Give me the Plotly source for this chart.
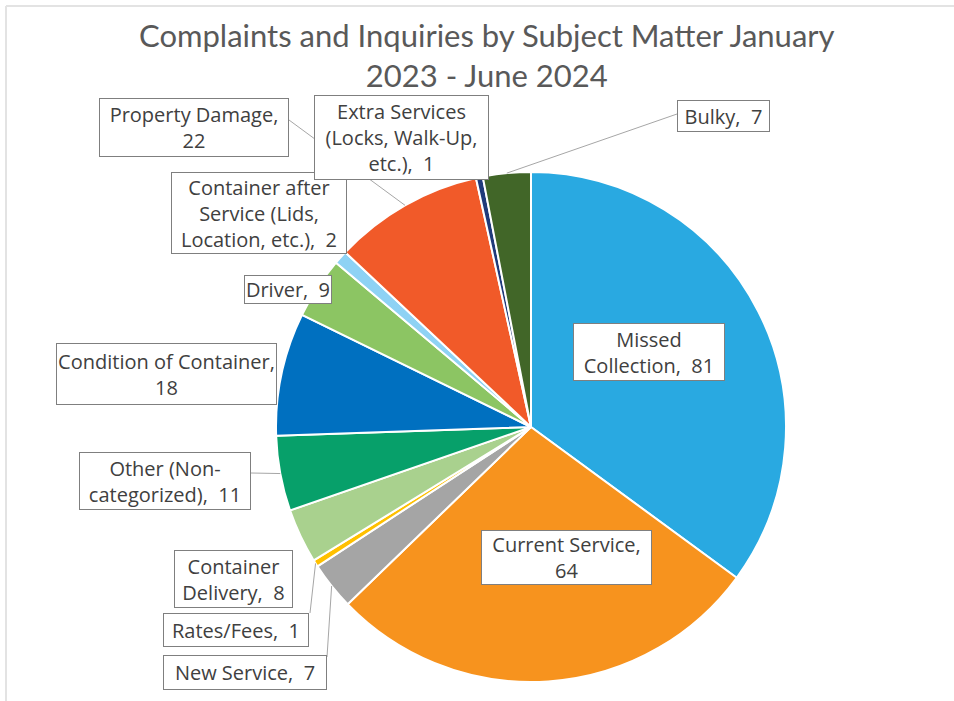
import math
import plotly.graph_objects as go

# ---------------- data ----------------
categories = [
    "Missed Collection",
    "Current Service",
    "New Service",
    "Rates/Fees",
    "Container Delivery",
    "Other (Non-categorized)",
    "Condition of Container",
    "Driver",
    "Container after Service (Lids, Location, etc.)",
    "Property Damage",
    "Extra Services (Locks, Walk-Up, etc.)",
    "Bulky",
]
values = [81, 64, 7, 1, 8, 11, 18, 9, 2, 22, 1, 7]
colors = [
    "#29A9E1", "#F7931E", "#A5A5A5", "#FFC000", "#A9D18E", "#07A06A",
    "#0070C0", "#8CC563", "#8ED2F4", "#F15A29", "#1F3A7A", "#416628",
]
wrapped_names = [
    "Missed<br>Collection",
    "Current Service,<br>",
    "New Service",
    "Rates/Fees",
    "Container<br>Delivery",
    "Other (Non-<br>categorized)",
    "Condition of Container,<br>",
    "Driver",
    "Container after<br>Service (Lids,<br>Location, etc.)",
    "Property Damage,<br>",
    "Extra Services<br>(Locks, Walk-Up,<br>etc.)",
    "Bulky",
]
title_text = "Complaints and Inquiries by Subject Matter January<br>2023 - June 2024"

# ---------------- layout (pixels) ----------------
W, H = 954, 701
CX, CY, R = 531, 427, 255
# label box extents (left, right, top, bottom in px) and optional leader anchor on the box
label_boxes = [
    ((573, 725, 323, 381), None),
    ((481, 652, 530, 585), None),
    ((163, 327, 655, 690), (327, 657)),
    ((163, 309, 613, 647), (310, 613)),
    ((174, 293, 550, 608), None),
    ((79, 251, 452, 510), (251, 473)),
    ((56, 277, 343, 405), None),
    ((244, 332, 275, 304), None),
    ((171, 347, 172, 254), None),
    ((99, 289, 98, 157), (289, 120)),
    ((314, 489, 95, 180), None),
    ((677, 770, 100, 132), (677, 114)),
]
BW = 1

def px(x):
    return x / W

def py(y):
    return 1 - y / H

fig = go.Figure(go.Pie(
    labels=categories,
    values=values,
    marker=dict(colors=colors, line=dict(color="white", width=2)),
    sort=False,
    direction="clockwise",
    rotation=0,
    textinfo="none",
    hoverinfo="label+value",
    showlegend=False,
    domain=dict(x=[px(CX - R), px(CX + R)], y=[py(CY + R), py(CY - R)]),
))

total = sum(values)
annotations = []
shapes = []
cum = 0
for name, wname, v, ((l, r, t, b), anchor) in zip(categories, wrapped_names, values, label_boxes):
    mid = (cum + v / 2) / total * 2 * math.pi
    cum += v
    sep = "" if wname.endswith("<br>") else ",\u00a0 "
    text = f"{wname}{sep}{v}"
    annotations.append(dict(
        x=px((l + r) / 2), y=py((t + b) / 2), xref="paper", yref="paper",
        text=text, showarrow=False,
        font=dict(family="Open Sans, Lato, sans-serif", size=20, color="#404040"),
        bgcolor="white", bordercolor="#7F7F7F", borderwidth=BW, borderpad=0,
        width=(r - l) - 2 * BW, height=(b - t) - 2 * BW,
        xanchor="center", yanchor="middle", align="center", valign="middle",
    ))
    if anchor is not None:
        ex = CX + R * math.sin(mid)
        ey = CY - R * math.cos(mid)
        shapes.append(dict(
            type="line", xref="paper", yref="paper",
            x0=px(ex), y0=py(ey), x1=px(anchor[0]), y1=py(anchor[1]),
            line=dict(color="#A6A6A6", width=1),
        ))

annotations.append(dict(
    x=px(487), y=py(55), xref="paper", yref="paper",
    text=title_text, showarrow=False,
    font=dict(family="Lato, sans-serif", size=31, color="#595959"),
    xanchor="center", yanchor="middle", align="center",
))

# thin chart border (top and left)
shapes.append(dict(type="line", xref="paper", yref="paper",
                   x0=px(6), y0=py(6), x1=1, y1=py(6),
                   line=dict(color="#E3E3E3", width=2)))
shapes.append(dict(type="line", xref="paper", yref="paper",
                   x0=px(6), y0=py(6), x1=px(6), y1=0,
                   line=dict(color="#E3E3E3", width=2)))

fig.update_layout(
    width=W, height=H,
    margin=dict(l=0, r=0, t=0, b=0),
    paper_bgcolor="white",
    plot_bgcolor="white",
    annotations=annotations,
    shapes=shapes,
)

fig.write_html("out.html", config={"displayModeBar": False},
               post_script="document.body.style.margin='0';")
